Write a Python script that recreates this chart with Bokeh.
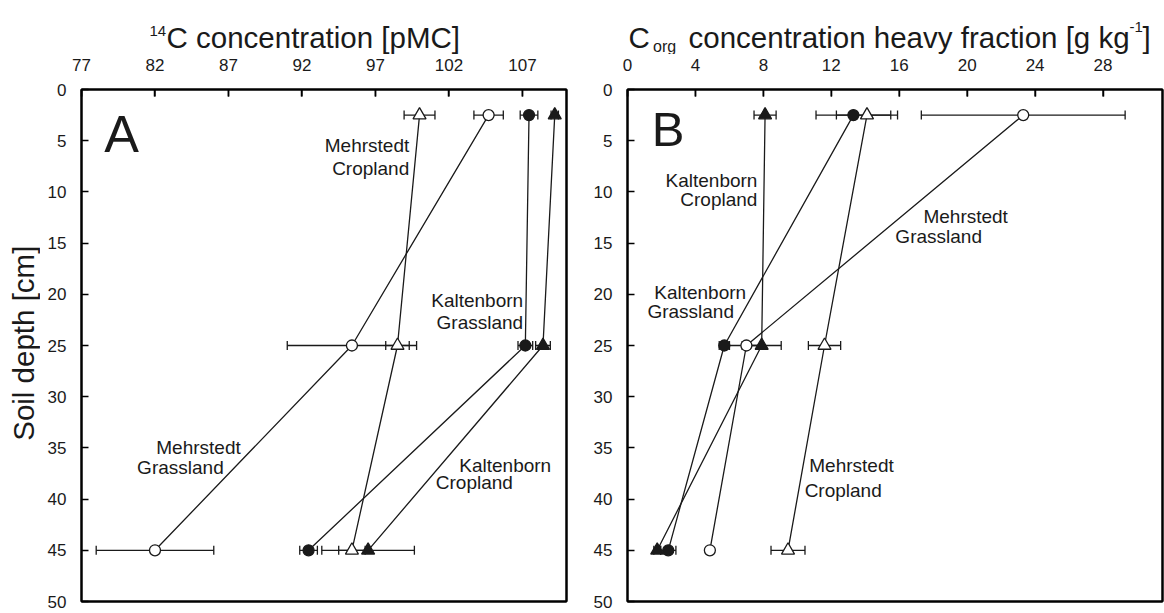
import math
from bokeh.plotting import figure
from bokeh.models import (ColumnDataSource, Whisker, TeeHead, Label, FixedTicker, Range1d,
                          LinearAxis)
from bokeh.layouts import row, column
from bokeh.embed import file_html
from bokeh.resources import INLINE

# ---------------- data ----------------
depth = [2.5, 25, 45]
depth_ticks = [0, 5, 10, 15, 20, 25, 30, 35, 40, 45, 50]

# Panel A: 14C concentration [pMC]
c14_ticks = [77, 82, 87, 92, 97, 102, 107]
c14_mehrstedt_crop = [100.0, 98.5, 95.4]
c14_mehrstedt_crop_err = [1.05, 0.8, 0.9]
c14_mehrstedt_grass = [104.7, 95.4, 82.0]
c14_mehrstedt_grass_err = [1.0, 4.4, 4.0]
c14_kaltenborn_grass = [107.45, 107.2, 92.45]
c14_kaltenborn_grass_err = [0.6, 0.5, 0.6]
c14_kaltenborn_crop = [109.2, 108.4, 96.5]
c14_kaltenborn_crop_err = [0.25, 0.5, 3.15]

# Panel B: Corg concentration heavy fraction [g kg-1]
corg_ticks = [0, 4, 8, 12, 16, 20, 24, 28]
corg_kaltenborn_crop = [8.1, 7.9, 1.75]
corg_kaltenborn_crop_err = [0.65, 1.15, 0.2]
corg_kaltenborn_grass = [13.3, 5.7, 2.4]
corg_kaltenborn_grass_err = [2.2, 0.3, 0.45]
corg_mehrstedt_grass = [23.3, 7.0, 4.85]
corg_mehrstedt_grass_err = [6.0, 1.0, 0.1]
corg_mehrstedt_crop = [14.1, 11.6, 9.45]
corg_mehrstedt_crop_err = [1.8, 0.95, 1.0]

FONT = "Liberation Sans"
INK = "#1a1a1a"
FRAME = "#000000"
HEADER_H = 54
TITLE_W = 40
BODY_H = 613 - HEADER_H


def style_axis(ax, labels=True):
    ax.major_tick_in = 7 if labels else 0
    ax.major_tick_out = 0
    ax.minor_tick_line_color = None
    ax.major_tick_line_width = 1.5
    ax.major_tick_line_color = FRAME
    ax.axis_line_color = FRAME
    ax.axis_line_width = 2
    ax.major_label_text_font = FONT
    ax.major_label_text_font_size = "17px"
    ax.major_label_text_color = INK
    if not labels:
        ax.major_label_text_font_size = "0px"
        ax.major_label_standoff = 0
        ax.major_tick_line_color = None


def make_panel(width, xr, xticks, left, right):
    p = figure(width=width, height=BODY_H, x_range=Range1d(*xr), y_range=Range1d(50, 0),
               x_axis_location="above", output_backend="svg", toolbar_location=None,
               min_border_left=left, min_border_right=right,
               min_border_top=89 - HEADER_H, min_border_bottom=12)
    p.grid.visible = False
    p.outline_line_color = FRAME
    p.outline_line_width = 2
    p.background_fill_color = "white"
    p.border_fill_color = None
    style_axis(p.xaxis[0])
    style_axis(p.yaxis[0])
    p.xaxis[0].ticker = FixedTicker(ticks=xticks)
    p.yaxis[0].ticker = FixedTicker(ticks=depth_ticks)
    p.xaxis[0].major_label_standoff = 19
    p.yaxis[0].major_label_standoff = 15
    rax = LinearAxis(ticker=FixedTicker(ticks=[]))
    style_axis(rax, labels=False)
    p.add_layout(rax, "right")
    bax = LinearAxis(ticker=FixedTicker(ticks=[]))
    style_axis(bax, labels=False)
    p.add_layout(bax, "below")
    # inward tick marks along the top edge (7 px ~ 0.68 depth units)
    p.segment(x0=xticks, y0=[0] * len(xticks), x1=xticks, y1=[0.68] * len(xticks),
              line_color=FRAME, line_width=1.5)
    return p


def add_series(p, vals, errs):
    src = ColumnDataSource(dict(
        x=vals, y=depth,
        lo=[v - e for v, e in zip(vals, errs)],
        hi=[v + e for v, e in zip(vals, errs)],
    ))
    p.line("x", "y", source=src, line_color=INK, line_width=1.3)
    p.add_layout(Whisker(source=src, base="y", lower="lo", upper="hi", dimension="width",
                         line_color=INK, line_width=1.3,
                         upper_head=TeeHead(size=9, line_color=INK, line_width=1.3),
                         lower_head=TeeHead(size=9, line_color=INK, line_width=1.3)))
    return src


def add_markers(p, src, marker, fill, size):
    p.scatter("x", "y", source=src, marker=marker, size=size,
              fill_color=fill, line_color=INK, line_width=1.3)


def txt(p, x, y, s, size="19px", align="center", baseline="middle", **kw):
    p.add_layout(Label(x=x, y=y, text=s, text_font=FONT, text_font_size=size,
                       text_align=align, text_baseline=baseline,
                       text_color=INK, **kw))


# ---------------- panel A ----------------
pa = make_panel(590 - TITLE_W, (77, 110), c14_ticks, 81 - TITLE_W, 24)
series_a = [
    (c14_mehrstedt_crop, c14_mehrstedt_crop_err, "triangle", "white", 13),
    (c14_mehrstedt_grass, c14_mehrstedt_grass_err, "circle", "white", 11),
    (c14_kaltenborn_grass, c14_kaltenborn_grass_err, "circle", INK, 11),
    (c14_kaltenborn_crop, c14_kaltenborn_crop_err, "triangle", INK, 13),
]
srcs = [add_series(pa, v, e) for v, e, m, f, s in series_a]
for src, (v, e, m, f, s) in zip(srcs, series_a):
    add_markers(pa, src, m, f, s)

txt(pa, 99.3, 5.45, "Mehrstedt", align="right")
txt(pa, 99.3, 7.75, "Cropland", align="right")
txt(pa, 107.05, 20.6, "Kaltenborn", align="right")
txt(pa, 107.05, 22.75, "Grassland", align="right")
txt(pa, 84.96, 34.93, "Mehrstedt")
txt(pa, 83.73, 36.88, "Grassland")
txt(pa, 105.83, 36.72, "Kaltenborn")
txt(pa, 103.73, 38.35, "Cropland")
txt(pa, 79.72, 4.39, "A", size="52px")

# ---------------- panel B ----------------
pb = make_panel(574, (0, 31.5), corg_ticks, 37, 2)
series_b = [
    (corg_mehrstedt_grass, corg_mehrstedt_grass_err, "circle", "white", 11),
    (corg_mehrstedt_crop, corg_mehrstedt_crop_err, "triangle", "white", 13),
    (corg_kaltenborn_grass, corg_kaltenborn_grass_err, "circle", INK, 11),
    (corg_kaltenborn_crop, corg_kaltenborn_crop_err, "triangle", INK, 13),
]
srcs = [add_series(pb, v, e) for v, e, m, f, s in series_b]
for src, (v, e, m, f, s) in zip(srcs, series_b):
    add_markers(pb, src, m, f, s)

txt(pb, 7.65, 8.9, "Kaltenborn", align="right")
txt(pb, 7.65, 10.75, "Cropland", align="right")
txt(pb, 19.91, 12.37, "Mehrstedt")
txt(pb, 18.32, 14.33, "Grassland")
txt(pb, 4.28, 19.8, "Kaltenborn")
txt(pb, 3.72, 21.68, "Grassland")
txt(pb, 13.19, 36.72, "Mehrstedt")
txt(pb, 12.7, 39.16, "Cropland")
txt(pb, 2.39, 3.9, "B", size="49px")


def blank(width, height, xr, yr):
    f = figure(width=width, height=height, x_range=Range1d(*xr), y_range=Range1d(*yr),
               output_backend="svg", toolbar_location=None,
               min_border_left=0, min_border_right=0, min_border_top=0, min_border_bottom=0)
    f.axis.visible = False
    f.grid.visible = False
    f.outline_line_color = None
    f.border_fill_color = None
    f.background_fill_color = None
    return f


# ---------------- header with axis titles (page pixel coordinates) ----------------
hd = blank(1164, HEADER_H, (0, 1164), (HEADER_H, 0))
txt(hd, 149, 30, "14", size="15px", align="left", baseline="alphabetic")
txt(hd, 166, 37, "C concentration [pMC]", size="29.5px", align="left", baseline="alphabetic")
txt(hd, 628, 37, "C", size="29.5px", align="left", baseline="alphabetic")
txt(hd, 652.6, 46, "org", size="16px", align="left", baseline="alphabetic")
txt(hd, 688, 37, "concentration heavy fraction [g kg", size="29.5px", align="left",
    baseline="alphabetic")
txt(hd, 1129, 26, "-1", size="15px", align="left", baseline="alphabetic")
txt(hd, 1142, 37, "]", size="29.5px", align="left", baseline="alphabetic")

# ---------------- left strip with the y-axis title ----------------
yt = blank(TITLE_W, BODY_H, (0, TITLE_W), (613, HEADER_H))
txt(yt, 23, 331, "Soil depth [cm]", size="29.5px", align="center", baseline="middle",
    angle=math.pi / 2)

layout = column(hd, row(yt, pa, pb, spacing=0), spacing=0)
open("out.html", "w").write(file_html(layout, INLINE))
